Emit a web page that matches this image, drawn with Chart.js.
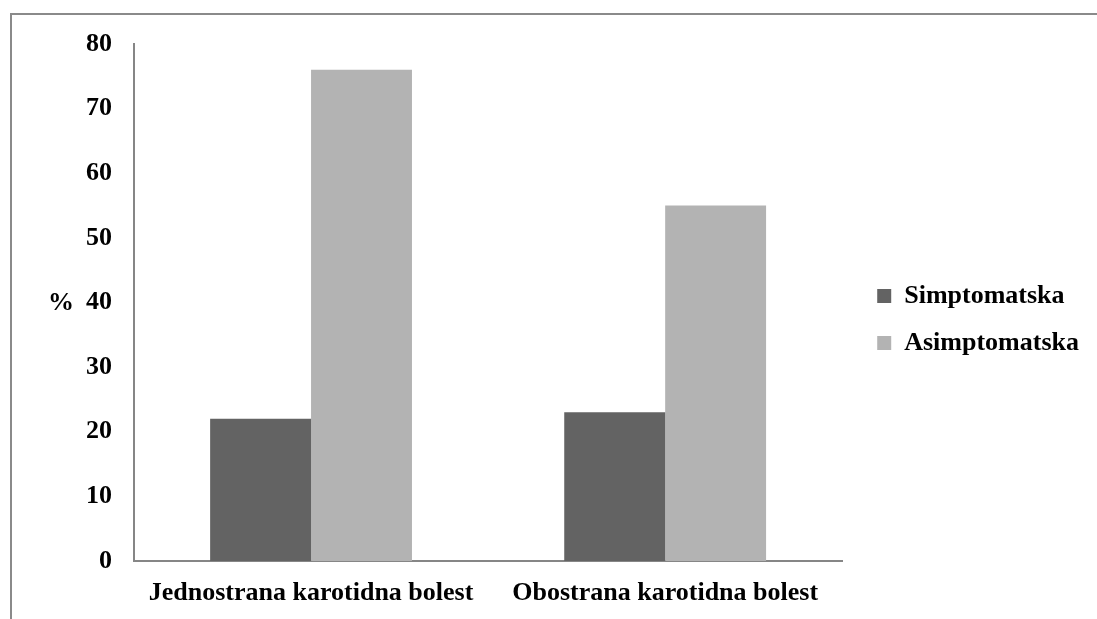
<!DOCTYPE html>
<html lang="sr">
  <head>
    <meta charset="utf-8" />
    <title>Karotidna bolest</title>
    <style>
      html, body { margin: 0; padding: 0; background: #fff; }
      body { width: 1097px; height: 619px; position: relative; overflow: hidden; }
      .frame {
        position: absolute; left: 10px; top: 13px; width: 1100px; height: 640px;
        border: 2px solid #8a8a8a; box-sizing: border-box;
      }
      #myChart { position: absolute; left: 0; top: 0; }
    </style>
  </head>
  <body>
    <div class="frame"></div>
    <canvas id="myChart" width="1097" height="619"></canvas>
    <script src="https://cdn.jsdelivr.net/npm/chart.js"></script>
    <script>
      const categories = ["Jednostrana karotidna bolest", "Obostrana karotidna bolest"];
      const simptomatska = [22, 23];
      const asimptomatska = [76, 55];
      const yTicks = [0, 10, 20, 30, 40, 50, 60, 70, 80];

      const font = { family: "'Liberation Serif', 'Times New Roman', serif", size: 26, weight: "bold" };

      // y axis title "%" drawn horizontally, left of the tick labels
      const percentLabel = {
        id: "percentLabel",
        afterDraw(chart) {
          const ctx = chart.ctx;
          const area = chart.chartArea;
          ctx.save();
          ctx.font = "bold 26px 'Liberation Serif', serif";
          ctx.fillStyle = "#000";
          ctx.textBaseline = "middle";
          ctx.fillText("%", 48, (area.top + area.bottom) / 2 + 1);
          ctx.restore();
        },
      };

      // wider gap between plot and legend, legend nudged up a bit
      const legendGap = {
        id: "legendGap",
        beforeInit(chart) {
          const legend = chart.legend;
          const fit = legend.fit;
          legend.fit = function () {
            fit.call(this);
            this.width += 14;
          };
        },
        afterLayout(chart) {
          const legend = chart.legend;
          legend.left += 14;
          legend.right += 14;
          legend.top -= 12;
          legend.bottom -= 12;
        },
      };

      const ctx = document.getElementById("myChart");

      new Chart(ctx, {
        type: "bar",
        data: {
          labels: categories,
          datasets: [
            {
              label: "Simptomatska",
              data: simptomatska,
              backgroundColor: "#636363",
            },
            {
              label: "Asimptomatska",
              data: asimptomatska,
              backgroundColor: "#b3b3b3",
            },
          ],
        },
        options: {
          responsive: false,
          animation: false,
          devicePixelRatio: 1,
          layout: { padding: { left: 54, top: 44, right: 8, bottom: 0 } },
          datasets: { bar: { categoryPercentage: 0.57, barPercentage: 1 } },
          plugins: {
            legend: {
              position: "right",
              labels: {
                boxWidth: 14,
                boxHeight: 14,
                padding: 21,
                color: "#000",
                font: font,
              },
            },
            tooltip: { enabled: false },
          },
          scales: {
            x: {
              afterFit(scale) {
                scale.height = 58;
              },
              grid: { display: false, drawTicks: false },
              border: { color: "#868686", width: 2 },
              ticks: { color: "#000", font: font, padding: 17, maxRotation: 0 },
            },
            y: {
              min: 0,
              max: 80,
              afterBuildTicks(scale) {
                scale.ticks = yTicks.map((v) => ({ value: v }));
              },
              afterFit(scale) {
                scale.width = 80;
              },
              grid: { display: false, drawTicks: false },
              border: { color: "#868686", width: 2 },
              ticks: { color: "#000", font: font, padding: 22 },
            },
          },
        },
        plugins: [percentLabel, legendGap],
      });
    </script>
  </body>
</html>
